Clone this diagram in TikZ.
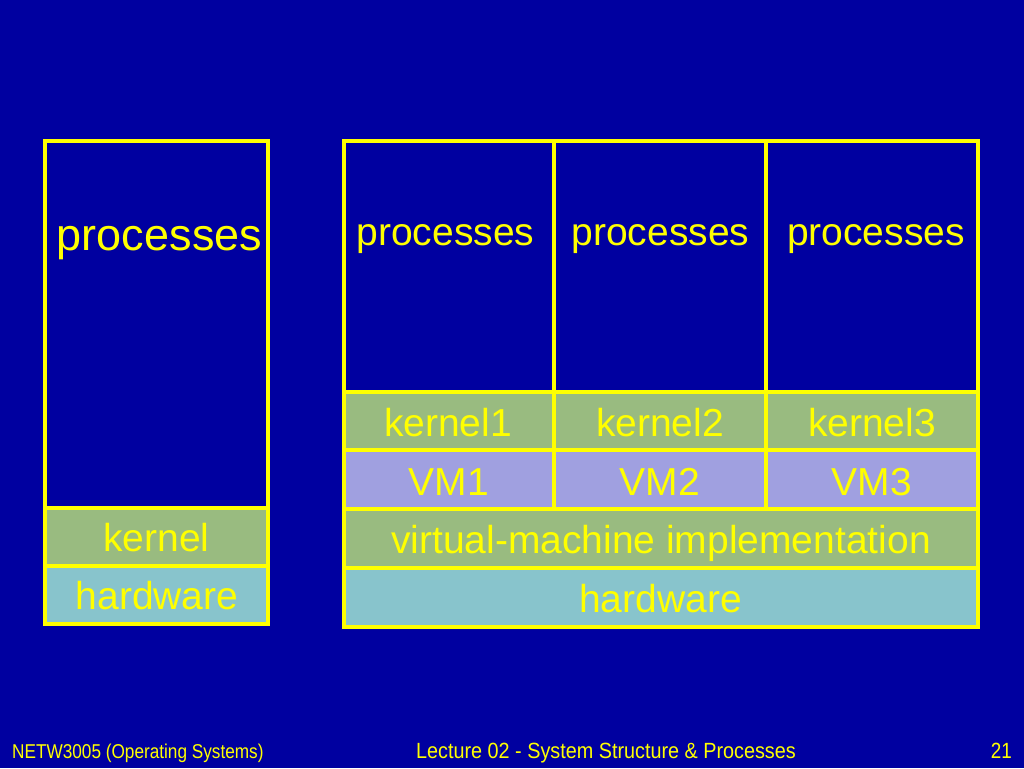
\documentclass[tikz,border=0pt]{standalone}
\usepackage{fontspec}
\setmainfont{Liberation Sans}
\newfontfamily\footfont[FakeStretch=0.86]{Liberation Sans}
\newfontfamily\footfontb[FakeStretch=0.9]{Liberation Sans}
\definecolor{bgblue}{RGB}{0,0,160}
\definecolor{ylw}{RGB}{255,255,0}
\definecolor{kgreen}{RGB}{153,187,128}
\definecolor{vmlav}{RGB}{160,160,224}
\definecolor{hwcyan}{RGB}{136,196,204}
\tikzset{
  box/.style={draw=ylw, line width=3.4pt, rectangle, inner sep=0pt, outer sep=0pt},
  lbl/.style={text=ylw, inner sep=0pt, anchor=base, font=\fontsize{39}{45}\selectfont},
  foot/.style={text=ylw, inner sep=0pt, anchor=base}
}
\begin{document}
\begin{tikzpicture}[x=1pt,y=-1pt]
\fill[bgblue] (0,0) rectangle (1024,768);
\useasboundingbox (0,0) rectangle (1024,768);
% left stack
\node[box, fill=bgblue, minimum width=223pt, minimum height=367pt] (lproc) at (156.5,324.5) {};
\node[box, fill=kgreen, minimum width=223pt, minimum height=58pt] (lkern) at (156.5,537) {};
\node[box, fill=hwcyan, minimum width=223pt, minimum height=58pt] (lhw) at (156.5,595) {};
\node[lbl, font=\fontsize{45}{50}\selectfont] (lproct) at (159.5,250) {processes};
\node[lbl] (lkernt) at (156.5,551) {kernel};
\node[lbl] (lhwt) at (157,609) {hardware};
% right stack
\node[box, fill=bgblue, minimum width=210pt, minimum height=251pt] (p1) at (449,266.5) {};
\node[box, fill=bgblue, minimum width=212pt, minimum height=251pt] (p2) at (660,266.5) {};
\node[box, fill=bgblue, minimum width=212pt, minimum height=251pt] (p3) at (872,266.5) {};
\node[lbl] (p1t) at (445.5,245) {processes};
\node[lbl] (p2t) at (660.5,245) {processes};
\node[lbl] (p3t) at (876,245) {processes};
\node[box, fill=kgreen, minimum width=210pt, minimum height=58pt] (k1) at (449,421) {};
\node[box, fill=kgreen, minimum width=212pt, minimum height=58pt] (k2) at (660,421) {};
\node[box, fill=kgreen, minimum width=212pt, minimum height=58pt] (k3) at (872,421) {};
\node[lbl] (k1t) at (448,436) {kernel1};
\node[lbl] (k2t) at (660,436) {kernel2};
\node[lbl] (k3t) at (872,436) {kernel3};
\node[box, fill=vmlav, minimum width=210pt, minimum height=59pt] (v1) at (449,479.5) {};
\node[box, fill=vmlav, minimum width=212pt, minimum height=59pt] (v2) at (660,479.5) {};
\node[box, fill=vmlav, minimum width=212pt, minimum height=59pt] (v3) at (872,479.5) {};
\node[lbl] (v1t) at (449,495) {VM1};
\node[lbl] (v2t) at (660,495) {VM2};
\node[lbl] (v3t) at (872,495) {VM3};
\node[box, fill=kgreen, minimum width=634pt, minimum height=59pt] (vmi) at (661,538.5) {};
\node[box, fill=hwcyan, minimum width=634pt, minimum height=59pt] (rhw) at (661,597.5) {};
\node[lbl] (vmit) at (661,553) {virtual-machine implementation};
\node[lbl] (rhwt) at (660.5,612) {hardware};
% footer
\node[foot, anchor=base west, font=\footfont\fontsize{20}{22}\selectfont] (f1) at (12,758) {NETW3005 (Operating Systems)};
\node[foot, font=\footfontb\fontsize{22}{24}\selectfont] (f2) at (606,758) {Lecture 02 - System Structure \& Processes};
\node[foot, anchor=base east, font=\footfont\fontsize{22}{24}\selectfont] (f3) at (1012,758) {21};
\end{tikzpicture}
\end{document}
